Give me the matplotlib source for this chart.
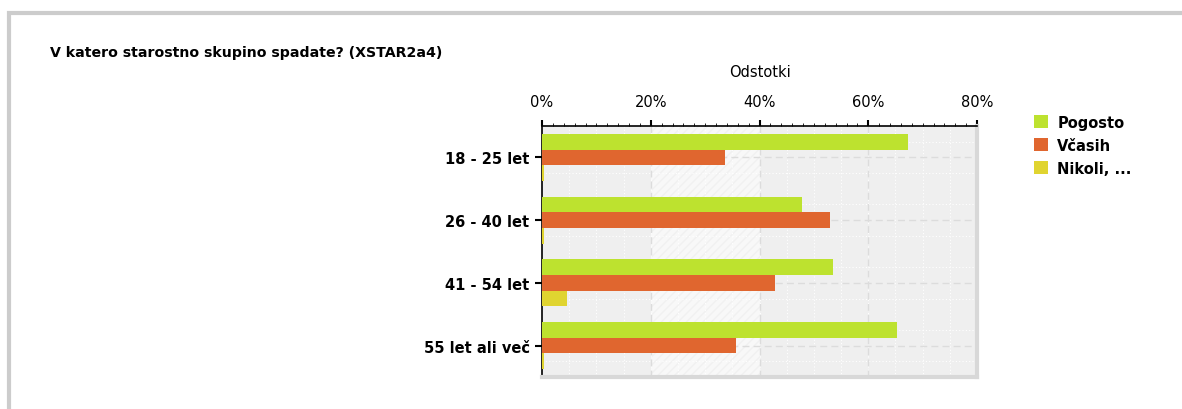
import matplotlib
matplotlib.use("Agg")
import matplotlib.pyplot as plt
from matplotlib.patches import Rectangle
from matplotlib.ticker import MultipleLocator, FuncFormatter

# Data
categories = ["18 - 25 let", "26 - 40 let", "41 - 54 let", "55 let ali več"]
series_names = ["Pogosto", "Včasih", "Nikoli, ..."]
pogosto = [67.3, 47.9, 53.6, 65.3]
vcasih = [33.7, 52.9, 42.9, 35.6]
nikoli = [0.4, 0.4, 4.6, 0.4]
x_ticks = [0, 20, 40, 60, 80]

colors = ["#bde22f", "#e0662f", "#e0d430"]
FONT = ["DejaVu Sans"]
plt.rcParams["font.family"] = FONT

W, H = 1182, 410
fig = plt.figure(figsize=(W / 100, H / 100), dpi=100)
fig.patch.set_facecolor("white")

# Outer frame
fig.patches.append(Rectangle((9 / W, -0.1), 1.2, (H - 14) / H + 0.1,
                             transform=fig.transFigure, fill=False,
                             edgecolor="#cccccc", linewidth=3))

fig.text(50 / W, 1 - 53 / H, "V katero starostno skupino spadate? (XSTAR2a4)",
         fontsize=10.2, fontweight="bold", va="center", ha="left")

left, right, top, bottom = 542, 977, 127, 378
ax = fig.add_axes([left / W, (H - bottom) / H, (right - left) / W, (bottom - top) / H])

# Background bands
ax.axvspan(0, 20, color="#efefef", zorder=0, lw=0)
ax.axvspan(20, 40, facecolor="#f8f8f8", edgecolor="#f1f1f1", hatch="////", zorder=0, lw=0)
ax.axvspan(40, 80, color="#efefef", zorder=0, lw=0)

n = len(categories)
ypos = list(range(n))
h = 0.25
for i, (vals, c) in enumerate(zip([pogosto, vcasih, nikoli], colors)):
    ax.barh([y + (i - 1) * h for y in ypos], vals, height=h, color=c,
            label=series_names[i], zorder=3)

ax.set_xlim(0, 80)
ax.set_ylim(n - 0.5, -0.5)

# Grid
for x in range(5, 80, 5):
    ax.axvline(x, color="white", lw=0.8, ls=(0, (1, 2)), zorder=1)
for y in [v + d for v in ypos for d in (-0.25, 0.25)]:
    ax.axhline(y, color="white", lw=0.8, ls=(0, (1, 2)), zorder=1)
for x in [20, 40, 60]:
    ax.axvline(x, color="#dcdcdc", lw=1, ls=(0, (5, 3)), zorder=2)
for y in ypos:
    ax.axhline(y, color="#dcdcdc", lw=1, ls=(0, (5, 3)), zorder=2)

ax.xaxis.tick_top()
ax.set_xticks(x_ticks)
ax.xaxis.set_minor_locator(MultipleLocator(2))
ax.xaxis.set_major_formatter(FuncFormatter(lambda v, p: f"{v:.0f}%"))
ax.tick_params(axis="x", which="major", length=4, width=1.5, labelsize=10.5, pad=8)
ax.tick_params(axis="x", which="minor", length=2, width=0.6)
ax.set_yticks(ypos)
ax.set_yticklabels(categories, fontsize=10.5, fontweight="bold")
ax.tick_params(axis="y", length=5, width=1.5, pad=4)

for s in ["left", "top"]:
    ax.spines[s].set_color("black")
    ax.spines[s].set_linewidth(1.2)
for s in ["right", "bottom"]:
    ax.spines[s].set_color("#d8d8d8")
    ax.spines[s].set_linewidth(3)

ax.set_title("Odstotki", fontsize=10.5, pad=36)

leg = fig.legend(loc="upper left", bbox_to_anchor=(1028 / W, 1 - 110 / H),
                 frameon=False, fontsize=10.5, handlelength=1.0, handleheight=1.0,
                 handletextpad=0.6, labelspacing=0.55, borderaxespad=0)
for t in leg.get_texts():
    t.set_fontweight("bold")

fig.savefig("out.png", dpi=100)
